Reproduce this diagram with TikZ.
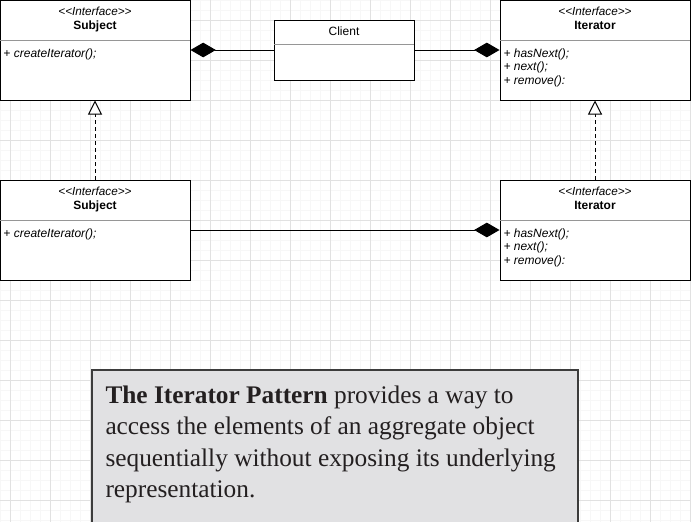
\documentclass[tikz,border=0pt]{standalone}
\usepackage{fontspec}
\setmainfont{Liberation Serif}
\newfontfamily\umlfont{Liberation Sans}
\usepackage{xcolor}
\usetikzlibrary{arrows.meta}
\definecolor{gridmajor}{RGB}{225,225,225}
\definecolor{gridminor}{RGB}{247,247,247}
\definecolor{sepgray}{RGB}{150,150,150}
\definecolor{notefill}{RGB}{225,225,227}
\definecolor{noteedge}{RGB}{60,60,60}
\definecolor{notetext}{RGB}{35,31,32}

\begin{document}
\begin{tikzpicture}[x=0.75pt, y=-0.75pt, line width=0.75pt,
        cls/.style = {draw, fill=white, inner sep=0pt, minimum width=142.5pt, minimum height=75pt},
        stereo/.style = {anchor=base, inner sep=0pt, font=\umlfont\itshape\fontsize{8.8}{9}\selectfont},
        title/.style = {anchor=base, inner sep=0pt, font=\umlfont\bfseries\fontsize{9}{10}\selectfont},
        ops/.style = {anchor=base west, inner sep=0pt, align=left,
            font=\umlfont\itshape\fontsize{9}{10.1}\selectfont},
        sep/.style = {draw=sepgray},
        comp/.style = {-{Diamond[length=19pt, width=11pt]}},
        realize/.style = {dash pattern=on 3pt off 2.25pt, -{Triangle[length=10.5pt, width=10.5pt, fill=white]}}]
        \useasboundingbox (0,0) rectangle (691,521);
        \clip (0,0) rectangle (691,521);

        % Background grid
        \begin{scope}[shift={(10,20)}]
            \draw[gridminor, step=7.5pt] (-20,-30) grid (690,510);
            \draw[gridmajor, step=30pt] (-20,-30) grid (690,510);
        \end{scope}

        % Subject (top)
        \node[cls] (subj1) at (95,50) {};
        \draw[sep] (0,40) -- (190,40);
        \node[stereo] (subj1st) at (95,15) {<<Interface>>};
        \node[title] (subj1nm) at (95,29) {Subject};
        \node[ops] (subj1op) at (3,57) {+ createIterator();};

        % Client
        \node[cls, minimum width=105pt, minimum height=45pt] (client) at (344,50) {};
        \draw[sep] (274,44) -- (414,44);
        \node[title, font=\umlfont\fontsize{9}{10}\selectfont] (clientnm) at (344,35) {Client};

        % Iterator (top), base = last line
        \node[cls] (iter1) at (595,50) {};
        \draw[sep] (500,40) -- (690,40);
        \node[stereo] (iter1st) at (595,15) {<<Interface>>};
        \node[title] (iter1nm) at (595,29) {Iterator};
        \node[ops] (iter1op) at (503,84) {+ hasNext();\\+ next();\\+ remove():};

        % Subject (bottom)
        \node[cls] (subj2) at (95,230) {};
        \draw[sep] (0,220) -- (190,220);
        \node[stereo] (subj2st) at (95,195) {<<Interface>>};
        \node[title] (subj2nm) at (95,209) {Subject};
        \node[ops] (subj2op) at (3,237) {+ createIterator();};

        % Iterator (bottom)
        \node[cls] (iter2) at (595,230) {};
        \draw[sep] (500,220) -- (690,220);
        \node[stereo] (iter2st) at (595,195) {<<Interface>>};
        \node[title] (iter2nm) at (595,209) {Iterator};
        \node[ops] (iter2op) at (503,264) {+ hasNext();\\+ next();\\+ remove():};

        % Composition lines
        \draw[comp] (client) -- (subj1);
        \draw[comp] (client) -- (iter1);
        \draw[comp] (subj2) -- (iter2);

        % Realization lines
        \draw[realize] (subj2) -- (subj1);
        \draw[realize] (iter2) -- (iter1);

        % Definition note
        \draw[fill=notefill, draw=noteedge, line width=1.5pt] (92,370) rectangle (578,540);
        \node[anchor=north west, inner sep=0pt, align=left, text=notetext,
            font=\fontsize{19}{23.6}\selectfont] (note) at (105,385)
            {\textbf{The Iterator Pattern} provides a way to\\
             access the elements of an aggregate object\\
             sequentially without exposing its underlying\\
             representation.};
    \end{tikzpicture}
\end{document}
